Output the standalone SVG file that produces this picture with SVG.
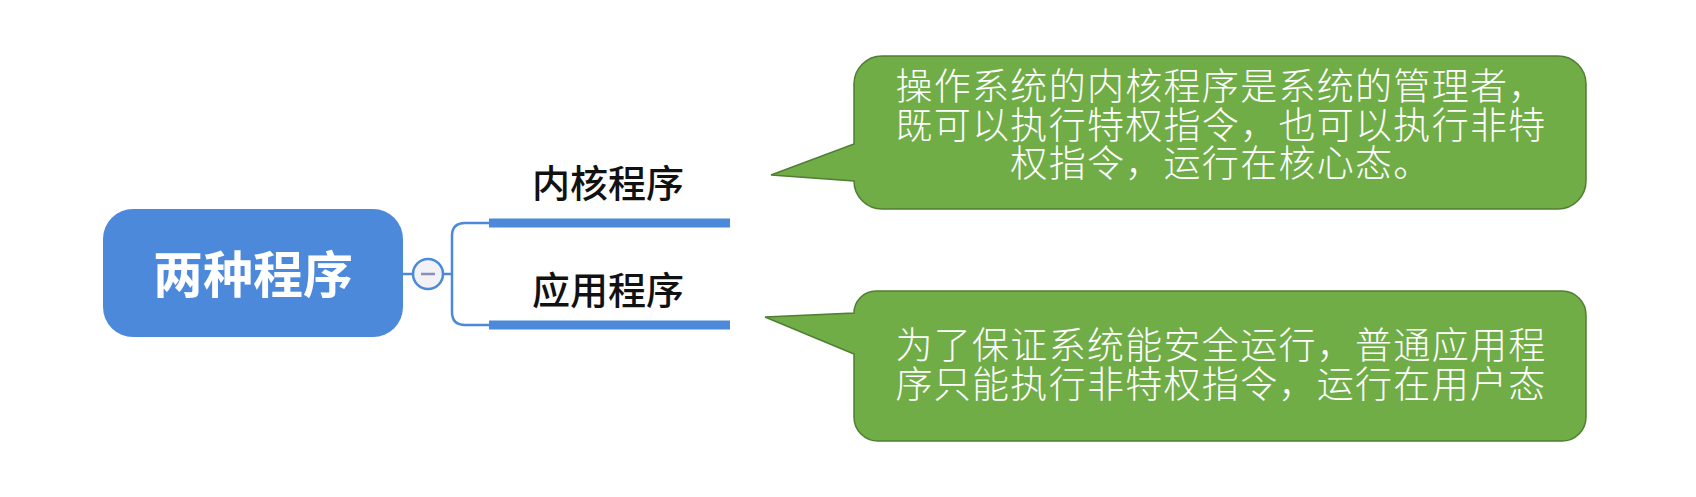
<svg xmlns="http://www.w3.org/2000/svg" width="1696" height="497" viewBox="0 0 1696 497">
<style>
.root{fill:#4c89da}
.rootText{font-family:"Noto Sans CJK SC",sans-serif;font-weight:700;font-size:50px;fill:#ffffff}
.label{font-family:"Noto Sans CJK SC",sans-serif;font-weight:500;font-size:38px;fill:#111111}
.thick{stroke:#4c89da;stroke-width:9;fill:none}
.thin{stroke:#4c89da;stroke-width:2.5;fill:none}
.bubble{fill:#70ad47;stroke:#507e32;stroke-width:1.5}
.btext{font-family:"Noto Sans CJK SC",sans-serif;font-weight:300;font-size:37px;letter-spacing:1.3px;fill:#ffffff;text-anchor:middle}
</style>
<rect width="1696" height="497" fill="#ffffff"/>
<g id="connectors">
<path class="thin" d="M403 274 H413"/>
<path class="thin" d="M443 274 H452 M452 274 V236 Q452 223 465 223 H490 M452 274 V312 Q452 325 465 325 H490"/>
<path class="thick" d="M489 223 H730"/>
<path class="thick" d="M489 325 H730"/>
</g>
<g id="root">
<rect class="root" x="103" y="209" width="300" height="128" rx="30"/>
<text class="rootText" x="253" y="293" text-anchor="middle">两种程序</text>
</g>
<g id="collapse">
<circle cx="428" cy="274" r="15" fill="#f1f1f6" stroke="#4c89da" stroke-width="2.5"/>
<path d="M421 274 H435" stroke="#8a8fb8" stroke-width="2.5"/>
</g>
<g id="kernel">
<text class="label" x="608" y="197" text-anchor="middle">内核程序</text>
</g>
<g id="app">
<text class="label" x="608" y="304" text-anchor="middle">应用程序</text>
</g>
<g id="bubble-kernel">
<path class="bubble" d="M882 56 H1558 A28 28 0 0 1 1586 84 V181 A28 28 0 0 1 1558 209 H882 A28 28 0 0 1 854 181 L771 175 L854 144 V84 A28 28 0 0 1 882 56 Z"/>
<text class="btext" x="1221" y="100"><tspan x="1221" y="100">操作系统的内核程序是系统的管理者，</tspan><tspan x="1221" y="139">既可以执行特权指令，也可以执行非特</tspan><tspan x="1221" y="177">权指令，运行在核心态。</tspan></text>
</g>
<g id="bubble-app">
<path class="bubble" d="M876 291 H1562 A24 24 0 0 1 1586 315 V417 A24 24 0 0 1 1562 441 H878 A24 24 0 0 1 854 417 V354 L765 317 L854 313 A22 22 0 0 1 876 291 Z"/>
<text class="btext" x="1221" y="359"><tspan x="1221" y="359">为了保证系统能安全运行，普通应用程</tspan><tspan x="1221" y="398">序只能执行非特权指令，运行在用户态</tspan></text>
</g>
</svg>
